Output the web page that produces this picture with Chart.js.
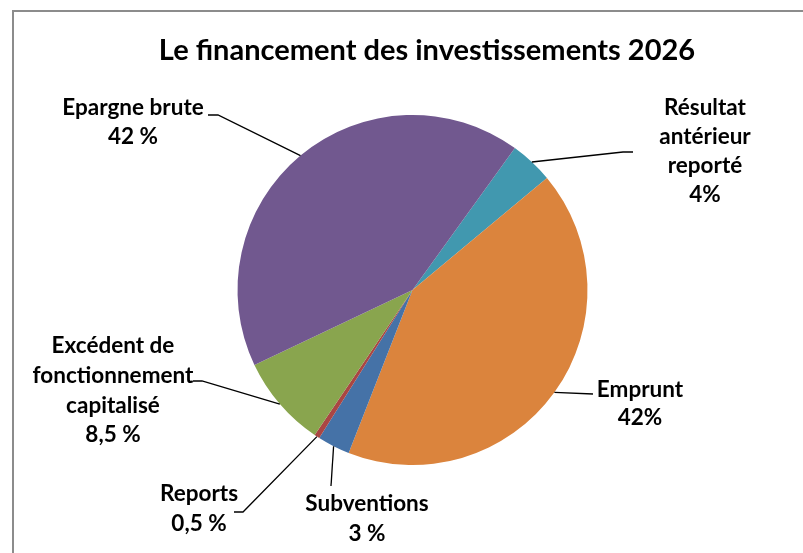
<!DOCTYPE html>
<html>
<head>
<meta charset="utf-8">
<script src="https://cdn.jsdelivr.net/npm/chart.js@4.4.1/dist/chart.umd.min.js"></script>
<style>
  html, body { margin: 0; padding: 0; background: #fff; }
  #wrap { width: 803px; height: 553px; position: relative; }
</style>
</head>
<body>
<div id="wrap"><canvas id="c" width="803" height="553"></canvas></div>
<script>
// ---- Data ----
const chartTitle = "Le financement des investissements 2026";
const categories = ["Résultat antérieur reporté", "Emprunt", "Subventions", "Reports", "Excédent de fonctionnement capitalisé", "Epargne brute"];
const values = [4, 42, 3, 0.5, 8.5, 42];
const labelLines = [
  ["Résultat", "antérieur", "reporté", "4%"],
  ["Emprunt", "42%"],
  ["Subventions", "3 %"],
  ["Reports", "0,5 %"],
  ["Excédent de", "fonctionnement", "capitalisé", "8,5 %"],
  ["Epargne brute", "42 %"]
];
const colors = ["#4198AF", "#DB843D", "#4572A7", "#AA4643", "#89A54E", "#71588F"];

// ---- Layout of labels (text block center x, first line middle y, line gap) ----
const FONT = "Lato";
const labelLayout = [
  { x: 705, y: 108, gap: 29, leader: [[623, 152], [633, 152]] },
  { x: 640, y: 390, gap: 28, leader: [[593, 394]] },
  { x: 367, y: 504, gap: 30, leader: [[331, 486]] },
  { x: 199, y: 494, gap: 30, leader: [[243, 512], [234, 512]] },
  { x: 113, y: 346, gap: 29.7, leader: [[202, 381], [193, 381]] },
  { x: 133, y: 108, gap: 29, leader: [[218, 115], [208, 115]] }
];

const overlay = {
  id: 'overlay',
  afterDraw(chart) {
    const ctx = chart.ctx;
    ctx.save();
    // frame
    ctx.strokeStyle = "#8C8C8C";
    ctx.lineWidth = 2;
    ctx.beginPath();
    ctx.moveTo(13, 560);
    ctx.lineTo(13, 11);
    ctx.lineTo(810, 11);
    ctx.stroke();

    // title
    ctx.fillStyle = "#000";
    ctx.textAlign = "center";
    ctx.textBaseline = "middle";
    ctx.font = "bold 29px " + FONT;
    ctx.fillText(chartTitle, 427, 51);

    const meta = chart.getDatasetMeta(0);
    meta.data.forEach((arc, i) => {
      const p = arc.getProps(['x', 'y', 'startAngle', 'endAngle', 'outerRadius'], true);
      const mid = (p.startAngle + p.endAngle) / 2;
      const ex = p.x + Math.cos(mid) * p.outerRadius;
      const ey = p.y + Math.sin(mid) * p.outerRadius;
      const L = labelLayout[i];
      ctx.strokeStyle = "#000";
      ctx.lineWidth = 1.3;
      ctx.beginPath();
      ctx.moveTo(ex, ey);
      L.leader.forEach(pt => ctx.lineTo(pt[0], pt[1]));
      ctx.stroke();

      ctx.font = "bold 22.5px " + FONT;
      ctx.fillStyle = "#000";
      labelLines[i].forEach((t, k) => {
        ctx.fillText(t, L.x, L.y + k * L.gap);
      });
    });
    ctx.restore();
  }
};

new Chart(document.getElementById('c'), {
  type: 'pie',
  data: {
    labels: categories,
    datasets: [{
      data: values,
      backgroundColor: colors,
      borderWidth: 0
    }]
  },
  options: {
    responsive: false,
    animation: false,
    rotation: 35.8,
    layout: { padding: { top: 115, bottom: 88, left: 237.5, right: 215.5 } },
    plugins: {
      legend: { display: false },
      title: { display: false },
      tooltip: { enabled: false }
    }
  },
  plugins: [overlay]
});
</script>
</body>
</html>
